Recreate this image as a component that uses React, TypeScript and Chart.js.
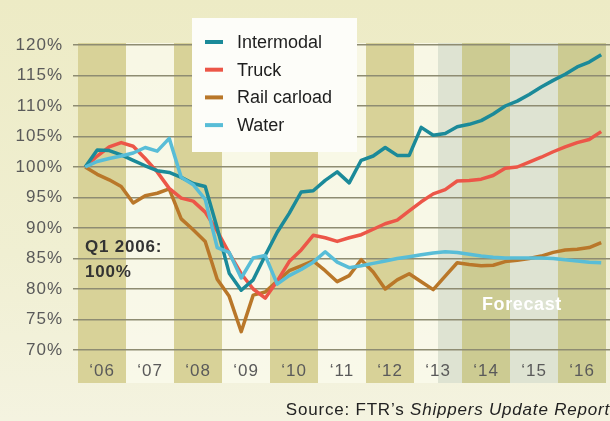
import React, { useEffect, useRef } from "react";
import { Chart, registerables } from "chart.js";
Chart.register(...registerables);

const years = [2006, 2007, 2008, 2009, 2010, 2011, 2012, 2013, 2014, 2015, 2016];
const yearLabels = ["\u201806", "\u201807", "\u201808", "\u201809", "\u201810", "\u201811", "\u201812", "\u201813", "\u201814", "\u201815", "\u201816"];
const quarterNames = ["Q1", "Q2", "Q3", "Q4"];
const forecastStart = 2013.5;

const intermodal = [100, 102.8, 102.7, 102.0, 101.1, 100.2, 99.4, 99.1, 98.3, 97.3, 96.8, 90.0, 82.6, 79.8, 81.5, 85.5, 89.3, 92.4, 95.9, 96.1, 97.8, 99.2, 97.4, 101.1, 101.8, 103.2, 101.9, 101.9, 106.5, 105.2, 105.5, 106.6, 107.0, 107.6, 108.7, 110.0, 110.8, 111.9, 113.1, 114.2, 115.2, 116.4, 117.2, 118.4];
const truck = [100, 101.8, 103.3, 104.0, 103.4, 101.4, 99.2, 96.5, 94.9, 94.4, 92.6, 89.5, 85.9, 82.5, 80.0, 78.5, 81.3, 84.5, 86.4, 88.8, 88.4, 87.8, 88.4, 88.9, 89.8, 90.7, 91.3, 92.8, 94.3, 95.6, 96.3, 97.7, 97.8, 98.0, 98.6, 99.8, 100.0, 100.8, 101.6, 102.5, 103.3, 104.0, 104.5, 105.8];
const railCarload = [100, 98.8, 97.9, 96.8, 94.1, 95.3, 95.7, 96.4, 91.5, 89.7, 87.8, 81.6, 78.8, 73.0, 79.0, 79.5, 81.3, 83.0, 83.8, 84.6, 83.0, 81.2, 82.2, 84.8, 82.8, 80.0, 81.5, 82.5, 81.2, 79.9, 82.1, 84.3, 84.0, 83.8, 83.9, 84.5, 84.7, 85.0, 85.4, 86.0, 86.4, 86.5, 86.8, 87.6];
const water = [100, 100.9, 101.4, 101.8, 102.3, 103.2, 102.6, 104.7, 98.3, 97.1, 94.7, 86.8, 86.0, 81.8, 85.1, 85.5, 80.8, 82.2, 83.2, 84.4, 86.1, 84.4, 83.5, 83.8, 84.2, 84.6, 85.0, 85.3, 85.6, 85.9, 86.1, 86.0, 85.7, 85.4, 85.2, 85.1, 85.1, 85.1, 85.1, 85.0, 84.8, 84.6, 84.4, 84.3];

const seriesNames = ["Intermodal", "Truck", "Rail carload", "Water"];
const seriesColors = ["#1b8a99", "#ec5648", "#b97729", "#58bdd7"];

// quarter positions on the year axis (category -> value)
const periods = years.flatMap((y) => quarterNames.map((q, qi) => ({ label: `${q} ${y}`, x: y + (qi + 0.6) / 4 })));

const FONT = "'Liberation Sans', Arial, Helvetica, sans-serif";

const bgPlugin = {
  id: "bgBands",
  beforeDraw(chart: any) {
    const { ctx, chartArea } = chart;
    const x = chart.scales.x;
    const W = chart.width, H = chart.height;
    ctx.save();
    const g = ctx.createLinearGradient(0, 0, 0, H);
    g.addColorStop(0, "#edebc5");
    g.addColorStop(0.6, "#f0efd2");
    g.addColorStop(1, "#f4f3e0");
    ctx.fillStyle = g;
    ctx.fillRect(0, 0, W, H);
    const top = chartArea.top - 2;
    const bottom = chartArea.bottom + 33;
    const fx = x.getPixelForValue(forecastStart);
    years.forEach((yr, i) => {
      const x0 = x.getPixelForValue(yr);
      const x1 = x.getPixelForValue(yr + 1);
      const dark = i % 2 === 0;
      ctx.fillStyle = dark ? "#d8d298" : "rgba(250,250,236,0.8)";
      ctx.fillRect(x0, top, x1 - x0, bottom - top);
      const f0 = Math.max(x0, fx);
      if (f0 < x1) {
        ctx.fillStyle = dark ? "#cccb92" : "#dee3d2";
        ctx.fillRect(f0, top, x1 - f0, bottom - top);
      }
    });
    ctx.restore();
    // slightly wider text tracking for axis labels
    ctx.letterSpacing = "1px";
  },
};

const overlayPlugin = {
  id: "overlay",
  afterDraw(chart: any) {
    const { ctx } = chart;
    ctx.save();
    // annotations
    ctx.textBaseline = "middle";
    ctx.textAlign = "left";
    ctx.fillStyle = "#333333";
    ctx.letterSpacing = "0.8px";
    ctx.font = `bold 17px ${FONT}`;
    ctx.fillText("Q1 2006:", 85, 247);
    ctx.fillText("100%", 85, 272);
    ctx.fillStyle = "#ffffff";
    ctx.letterSpacing = "0.6px";
    ctx.font = `bold 18px ${FONT}`;
    ctx.fillText("Forecast", 482, 305);

    // legend box
    ctx.letterSpacing = "0px";
    ctx.fillStyle = "#fdfdf9";
    ctx.fillRect(192, 18, 165, 134);
    ctx.font = `18px ${FONT}`;
    chart.data.datasets.forEach((ds: any) => {
      const idx = seriesNames.indexOf(ds.label);
      const yy = 42 + idx * 27.7;
      ctx.strokeStyle = ds.borderColor;
      ctx.lineWidth = 4;
      ctx.lineCap = "butt";
      ctx.beginPath();
      ctx.moveTo(205, yy);
      ctx.lineTo(223, yy);
      ctx.stroke();
      ctx.fillStyle = "#1e1e1e";
      ctx.fillText(ds.label, 237, yy + 1);
    });

    // source
    ctx.fillStyle = "#222222";
    ctx.letterSpacing = "0.8px";
    ctx.font = `italic 17px ${FONT}`;
    const it = "Shippers Update Report";
    const itW = ctx.measureText(it).width;
    ctx.textAlign = "right";
    ctx.fillText(it, 610, 410);
    ctx.font = `17px ${FONT}`;
    ctx.fillText("Source: FTR\u2019s ", 610 - itW, 410);
    ctx.restore();
  },
};

export default function App() {
  const ref = useRef<HTMLCanvasElement | null>(null);
  useEffect(() => {
    if (!ref.current) return;
    const all = [intermodal, truck, railCarload, water];
    const orders = [1, 2, 3, 0];
    const chart = new Chart(ref.current, {
      type: "line",
      data: {
        datasets: all.map((vals, i) => ({
          label: seriesNames[i],
          data: vals.map((v, k) => ({ x: periods[k].x, y: v })),
          borderColor: seriesColors[i],
          backgroundColor: seriesColors[i],
          borderWidth: 3.5,
          pointRadius: 0,
          tension: 0,
          fill: false,
          order: orders[i],
          borderJoinStyle: "round" as const,
        })),
      },
      options: {
        animation: false,
        responsive: false,
        devicePixelRatio: 1,
        layout: { padding: { top: 45, right: 0, left: 0, bottom: 0 } },
        plugins: { legend: { display: false }, tooltip: { enabled: false }, title: { display: false } },
        scales: {
          x: {
            type: "linear",
            min: 2006 - 5 / 48,
            max: 2017 + 4 / 48,
            grid: { display: false, drawTicks: false },
            border: { display: false },
            afterBuildTicks: (scale: any) => {
              scale.ticks = years.map((y) => ({ value: y + 0.5 }));
            },
            afterFit: (scale: any) => {
              scale.height = 71;
            },
            ticks: {
              autoSkip: false,
              maxRotation: 0,
              padding: 11,
              color: "#5a5a5a",
              font: { family: FONT, size: 17 },
              callback: (_v: any, i: number) => yearLabels[i],
            },
          },
          y: {
            min: 70,
            max: 120,
            grid: { color: "#8e8c72", lineWidth: 1.4, drawTicks: false },
            border: { display: false },
            afterFit: (scale: any) => {
              scale.width = 73;
            },
            ticks: {
              stepSize: 5,
              padding: 10,
              color: "#5a5a5a",
              font: { family: FONT, size: 17 },
              callback: (v: any) => `${v}%`,
            },
          },
        },
      },
      plugins: [bgPlugin, overlayPlugin],
    });
    return () => chart.destroy();
  }, []);
  return (
    <div style={{ position: "absolute", left: 0, top: 0, width: 610, height: 421 }}>
      <canvas ref={ref} width={610} height={421} style={{ display: "block" }} />
    </div>
  );
}
